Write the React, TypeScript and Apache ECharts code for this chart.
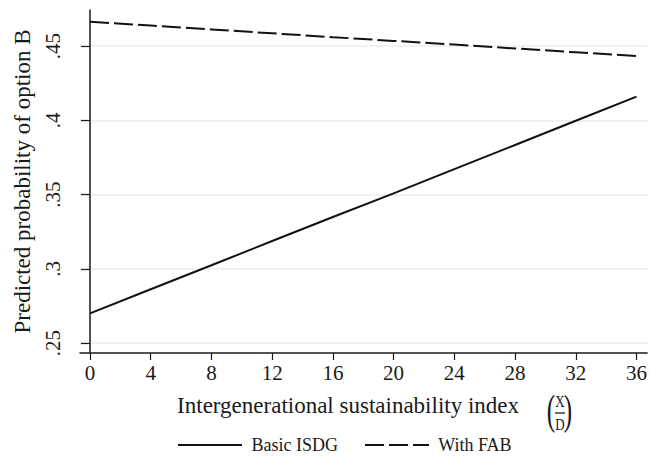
import React, { useEffect, useRef } from "react";
import * as echarts from "echarts";

const xValues = [0, 4, 8, 12, 16, 20, 24, 28, 32, 36];
const basicISDG = [0.27, 0.2862, 0.3024, 0.3187, 0.3349, 0.3508, 0.3671, 0.3834, 0.3997, 0.416];
const withFAB = [0.4664, 0.4638, 0.4612, 0.4586, 0.456, 0.4535, 0.451, 0.4484, 0.4458, 0.4433];
const xTicks = [0, 4, 8, 12, 16, 20, 24, 28, 32, 36];
const yTicks = [0.25, 0.3, 0.35, 0.4, 0.45];
const yTickLabels = [".25", ".3", ".35", ".4", ".45"];
const seriesNames = ["Basic ISDG", "With FAB"];

const FONT = "'Liberation Serif', 'Times New Roman', serif";
const INK = "#1a1a1a";

export default function App() {
  const ref = useRef<HTMLDivElement>(null);

  useEffect(() => {
    if (!ref.current) return;
    const chart = echarts.init(ref.current, undefined, { renderer: "svg" });
    const toPairs = (ys: number[]) => xValues.map((x, i) => [x, ys[i]]);

    chart.setOption({
      animation: false,
      backgroundColor: "#ffffff",
      textStyle: { fontFamily: FONT, color: INK },
      grid: { left: 80, right: 2, top: 10, bottom: 105 },
      xAxis: {
        type: "value",
        min: -0.66,
        max: 36.7,
        name: "Intergenerational sustainability index",
        nameLocation: "middle",
        nameGap: 41,
        nameTextStyle: { fontFamily: FONT, fontSize: 23, color: INK, padding: [0, 31, 0, 0] },
        axisLine: { show: true, lineStyle: { color: INK, width: 1.5 } },
        axisTick: { show: true, length: 7, lineStyle: { color: INK, width: 1.2 }, customValues: xTicks },
        axisLabel: { fontFamily: FONT, fontSize: 21, color: INK, margin: 9, customValues: xTicks },
        splitLine: { show: false },
      },
      yAxis: {
        type: "value",
        min: 0.2433,
        max: 0.4743,
        name: "Predicted probability of option B",
        nameLocation: "middle",
        nameGap: 45,
        nameTextStyle: { fontFamily: FONT, fontSize: 23, color: INK },
        axisLine: { show: true, lineStyle: { color: INK, width: 1.5 } },
        axisTick: { show: true, length: 9, lineStyle: { color: INK, width: 1.2 }, customValues: yTicks },
        axisLabel: {
          fontFamily: FONT,
          fontSize: 21,
          color: INK,
          rotate: 90,
          margin: 17,
          customValues: yTicks,
          formatter: (v: number) => {
            const i = yTicks.findIndex((t) => Math.abs(t - v) < 1e-9);
            return i >= 0 ? yTickLabels[i] : "";
          },
        },
        splitLine: { show: true, lineStyle: { color: "#ececec", width: 1.5 } },
      },
      legend: {
        left: 177,
        top: 436,
        padding: 0,
        itemWidth: 64,
        itemHeight: 18,
        itemGap: 26,
        itemStyle: { opacity: 0 },
        textStyle: { fontFamily: FONT, fontSize: 18, color: INK },
        formatter: (name: string) => " " + name,
        data: seriesNames,
      },
      series: [
        {
          name: seriesNames[0],
          type: "line",
          data: toPairs(basicISDG),
          symbol: "none",
          lineStyle: { color: "#111", width: 2, type: "solid" },
          itemStyle: { color: "#111" },
        },
        {
          name: seriesNames[1],
          type: "line",
          data: toPairs(withFAB),
          symbol: "none",
          lineStyle: { color: "#111", width: 2, type: [19, 5] },
          itemStyle: { color: "#111" },
        },
      ],
      graphic: [
        {
          type: "text",
          x: 551,
          y: 409,
          scaleX: 0.6,
          style: { text: "(", fontFamily: FONT, fontSize: 42, fill: INK, align: "center", verticalAlign: "middle" },
        },
        {
          type: "text",
          x: 560,
          y: 401,
          scaleY: 1.35,
          style: { text: "X", fontFamily: FONT, fontSize: 13, fill: INK, align: "center", verticalAlign: "middle" },
        },
        {
          type: "line",
          shape: { x1: 555, y1: 413, x2: 565, y2: 413 },
          style: { stroke: INK, lineWidth: 1.3 },
        },
        {
          type: "text",
          x: 560,
          y: 424,
          scaleY: 1.35,
          style: { text: "D", fontFamily: FONT, fontSize: 13, fill: INK, align: "center", verticalAlign: "middle" },
        },
        {
          type: "text",
          x: 568,
          y: 409,
          scaleX: 0.6,
          style: { text: ")", fontFamily: FONT, fontSize: 42, fill: INK, align: "center", verticalAlign: "middle" },
        },
      ],
    });

    return () => chart.dispose();
  }, []);

  return (
    <div
      ref={ref}
      style={{ position: "fixed", left: 0, top: 0, width: 650, height: 458, background: "#fff" }}
    />
  );
}
